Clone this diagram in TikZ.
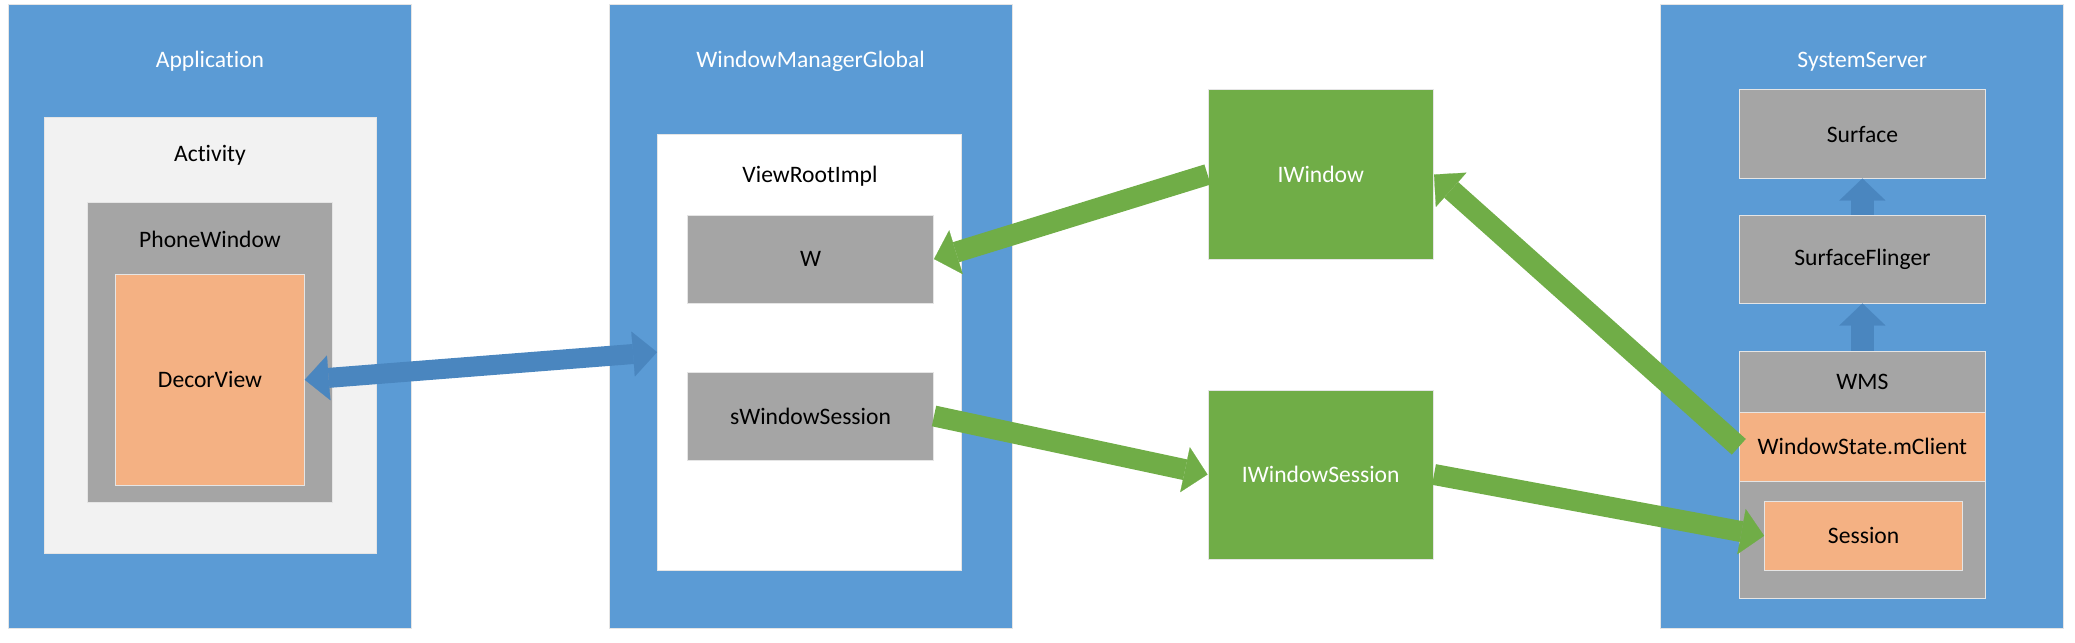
\documentclass[tikz,border=0pt]{standalone}
\usepackage{fontspec}
\setmainfont{Carlito}[Ligatures=NoCommon]
\usetikzlibrary{arrows.meta}

\definecolor{boxblue}{HTML}{5B9BD5}
\definecolor{arrowblue}{HTML}{4A86BF}
\definecolor{lightbox}{HTML}{F2F2F2}
\definecolor{graybox}{HTML}{A5A5A5}
\definecolor{orangebox}{HTML}{F4B183}
\definecolor{greenbox}{HTML}{70AD47}

\begin{document}
\begin{tikzpicture}
    [
      x=.5pt, y=-.5pt,
      font=\fontsize{11.8}{14}\selectfont,
      box/.style={draw=black!10, line width=.5pt, inner sep=0pt},
      outer/.style={box, fill=boxblue, minimum width=201.6pt, minimum height=311.75pt},
      title/.style={text=white},
      inner/.style={box, fill=graybox, minimum width=123pt, minimum height=44pt},
      binder/.style={box, fill=greenbox, text=white, minimum width=112.75pt, minimum height=84.5pt},
      greenarrow/.style={draw=greenbox, line width=10.5pt,
        -{Triangle[width=23pt,length=11.5pt,line width=.1pt]}},
      bluearrow/.style={draw=arrowblue, line width=10pt,
        {Triangle[width=22.5pt,length=12pt,line width=.1pt]}-{Triangle[width=22.5pt,length=12pt,line width=.1pt]}},
      uparrow/.style={draw=arrowblue, line width=11.5pt,
        -{Triangle[width=23pt,length=11pt,line width=.1pt]}},
    ]
    %
    \useasboundingbox (0, 0) rectangle (2075, 642);

    \foreach \n/\x/\t in {app/210/Application, wmg/810.6/WindowManagerGlobal, ss/1862.3/SystemServer} {
      \node [outer] (\n) at (\x, 316.25) {};
      \node [title] (\n-title) at (\x, 61.4) {\t};
    }

    % application
    \node [box, fill=lightbox, minimum width=166pt, minimum height=217.5pt] (activity) at (210, 335.5) {};
    \node (activity-title) at (210, 154.8) {Activity};
    \node [box, fill=graybox, minimum width=122.5pt, minimum height=149.65pt] (phonewindow) at (210, 352.35) {};
    \node (phonewindow-title) at (210, 239.5) {PhoneWindow};
    \node [box, fill=orangebox, minimum width=94.25pt, minimum height=105.75pt] (decorview) at (210, 379.75) {DecorView};

    % window manager global
    \node [box, fill=white, minimum width=152.1pt, minimum height=217.85pt] (viewrootimpl) at (809.6, 352.15) {};
    \node (viewrootimpl-title) at (810, 176) {ViewRootImpl};
    \node [inner] (w) at (810.5, 259) {W};
    \node [inner] (swindowsession) at (810.5, 416) {sWindowSession};

    % binder
    \node [binder] (iwindow) at (1320.75, 174.5) {IWindow};
    \node [binder] (iwindowsession) at (1320.75, 474.5) {IWindowSession};

    % system server
    \node [inner, minimum width=123.1pt] (surface) at (1862.4, 134) {Surface};
    \node [inner, minimum width=123.1pt] (surfaceflinger) at (1862.4, 259) {SurfaceFlinger};
    \node [box, fill=graybox, minimum width=123.1pt, minimum height=123.5pt] (wms) at (1862.4, 474.5) {};
    \node (wms-title) at (1862.4, 381.7) {WMS};
    \node [box, fill=orangebox, minimum width=123.1pt, minimum height=34.4pt] (mclient) at (1862.4, 446.8) {WindowState.mClient};
    \node [box, fill=orangebox, minimum width=99pt, minimum height=34.2pt] (session) at (1863.6, 535.8) {Session};

    \draw [bluearrow] (decorview.east) -- (viewrootimpl.west);
    \draw [greenarrow] (iwindow.west) -- (w.east);
    \draw [greenarrow] (swindowsession.east) -- (iwindowsession.west);
    \draw [greenarrow] (iwindowsession.east) -- (session.west);
    \draw [greenarrow] (mclient.west) -- (iwindow.east);
    \draw [uparrow] (surfaceflinger.north) -- (surface.south);
    \draw [uparrow] (wms.north) -- (surfaceflinger.south);
  \end{tikzpicture}
\end{document}
